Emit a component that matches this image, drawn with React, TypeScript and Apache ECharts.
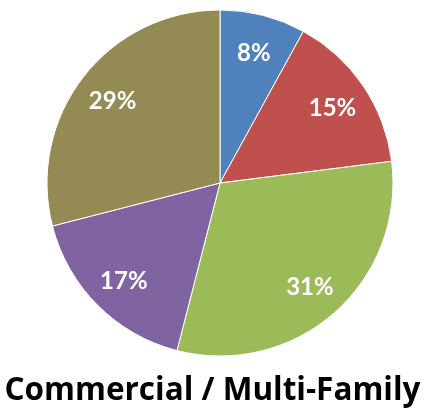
import React, { useEffect, useRef } from "react";
import * as echarts from "echarts";

const categories = ["A", "B", "C", "D", "E"];
const values = [8, 15, 31, 17, 29];
const colors = ["#4F81BD", "#C0504D", "#9BBB59", "#8064A2", "#948A54"];
const titleText = "Commercial / Multi-Family";

export default function App() {
  const ref = useRef<HTMLDivElement>(null);
  useEffect(() => {
    const chart = echarts.init(ref.current!, null, { renderer: "svg" });
    const data = categories.map((c, i) => ({
      name: c,
      value: values[i],
      itemStyle: { color: colors[i] },
    }));
    chart.setOption({
      animation: false,
      title: {
        text: titleText,
        left: "center",
        top: 366,
        textStyle: {
          fontFamily: "Open Sans",
          fontWeight: "bold",
          fontSize: 31.5,
          color: "#000",
        },
      },
      series: [
        {
          type: "pie",
          center: [220, 183],
          radius: [0, 173],
          startAngle: 90,
          clockwise: true,
          silent: true,
          label: { show: false },
          labelLine: { show: false },
          itemStyle: { borderColor: "#fff", borderWidth: 1 },
          data,
        },
        {
          type: "pie",
          center: [220, 183],
          radius: [93, 173],
          startAngle: 90,
          clockwise: true,
          silent: true,
          itemStyle: { color: "transparent", borderWidth: 0 },
          label: {
            show: true,
            position: "inside",
            formatter: (p: any) => p.value + "%",
            color: "#fff",
            fontFamily: "Lato",
            fontWeight: "bold",
            fontSize: 24,
          },
          labelLine: { show: false },
          data: categories.map((c, i) => ({ name: c, value: values[i] })),
        },
      ],
    });
    return () => chart.dispose();
  }, []);
  return (
    <div
      ref={ref}
      style={{ position: "fixed", left: 0, top: 0, width: 425, height: 410 }}
    />
  );
}
